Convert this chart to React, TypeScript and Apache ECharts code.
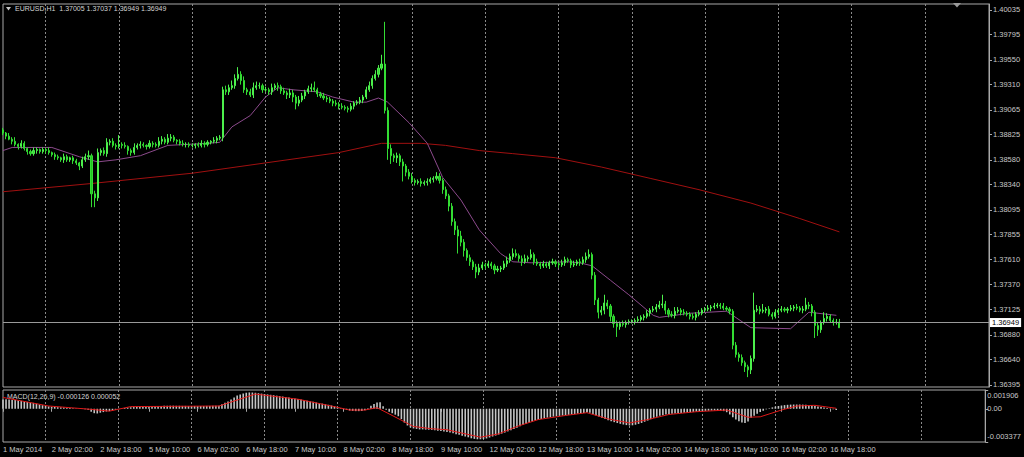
import React, { useEffect, useRef } from 'react';
import * as echarts from 'echarts';

// ---------- data ----------
const symbolTitle = 'EURUSD,H1  1.37005 1.37037 1.36949 1.36949';
const macdTitle = 'MACD(12,26,9) -0.000126 0.000052';

const timeLabels = ['1 May 2014', '2 May 02:00', '2 May 18:00', '5 May 10:00', '6 May 02:00', '6 May 18:00', '7 May 10:00', '8 May 02:00', '8 May 18:00', '9 May 10:00', '12 May 02:00', '12 May 18:00', '13 May 10:00', '14 May 02:00', '14 May 18:00', '15 May 10:00', '16 May 02:00', '16 May 18:00'];
const priceTicks = [1.36395, 1.3664, 1.3688, 1.37125, 1.3737, 1.3761, 1.37855, 1.38095, 1.3834, 1.3858, 1.38825, 1.39065, 1.3931, 1.3955, 1.39795, 1.40035];
const macdTicks = [-0.003377, 0, 0.001906];
const lastPrice = 1.36949;

const firstOpen = 1.3887;
const closes = [
  1.3884,1.3881,1.3878,1.3876,1.3873,1.3871,1.3874,1.3869,1.3866,1.3864,1.3867,1.3868,1.3866,1.3868,
  1.3867,1.3865,1.3863,1.3861,1.3860,1.3858,1.3861,1.3858,1.3860,1.3857,1.3855,1.3852,1.3858,1.3861,1.3862,1.3825,1.3821,1.3865,1.3867,1.3864,1.3875,1.3876,1.3872,1.3871,
  1.3873,1.3872,1.3871,1.3867,1.3865,1.3870,1.3872,1.3873,1.3872,1.3871,1.3874,1.3873,1.3872,1.3876,1.3878,1.3875,1.3879,1.3880,1.3877,1.3876,1.3874,1.3873,1.3873,1.3872,
  1.3872,1.3873,1.3872,1.3874,1.3873,1.3875,1.3876,1.3877,1.3879,1.3880,1.3926,1.3924,1.3928,1.3930,1.3937,1.3941,1.3935,1.3926,1.3924,1.3921,1.3928,1.3930,1.3930,1.3926,
  1.3926,1.3924,1.3928,1.3930,1.3929,1.3925,1.3923,1.3921,1.3923,1.3919,1.3913,1.3916,1.3920,1.3924,1.3927,1.3928,1.3926,1.3922,1.3920,1.3918,1.3917,1.3915,1.3913,1.3912,
  1.3910,1.3909,1.3908,1.3907,1.3910,1.3913,1.3914,1.3916,1.3919,1.3926,1.3930,1.3937,1.3941,1.3947,1.3951,1.3906,1.3869,1.3862,1.3860,1.3862,1.3856,1.3852,1.3846,1.3842,
  1.3838,1.3836,1.3837,1.3835,1.3836,1.3837,1.3839,1.3840,1.3842,1.3838,1.3829,1.3823,1.3813,1.3798,1.3790,1.3784,1.3778,1.3770,1.3763,1.3759,1.3754,1.3749,1.3753,1.3756,
  1.3755,1.3757,1.3755,1.3751,1.3752,1.3753,1.3757,1.3760,1.3764,1.3767,1.3765,1.3762,1.3759,1.3762,1.3763,1.3766,1.3759,1.3757,1.3755,1.3757,1.3755,1.3758,1.3759,1.3757,
  1.3756,1.3758,1.3761,1.3760,1.3756,1.3757,1.3759,1.3758,1.3761,1.3764,1.3766,1.3746,1.3722,1.3710,1.3712,1.3719,1.3716,1.3706,1.3699,1.3696,1.3699,1.3698,1.3700,1.3701,
  1.3701,1.3702,1.3703,1.3705,1.3706,1.3709,1.3712,1.3713,1.3715,1.3717,1.3718,1.3712,1.3708,1.3707,1.3711,1.3712,1.3710,1.3709,1.3708,1.3706,1.3705,1.3708,1.3709,1.3712,
  1.3713,1.3714,1.3715,1.3716,1.3717,1.3716,1.3714,1.3713,1.3711,1.3678,1.3669,1.3666,1.3661,1.3657,1.3654,1.3665,1.3712,1.3713,1.3711,1.3712,1.3713,1.3708,1.3706,1.3710,
  1.3712,1.3713,1.3712,1.3713,1.3714,1.3715,1.3714,1.3712,1.3713,1.3717,1.3716,1.3710,1.3697,1.3693,1.3700,1.3704,1.3706,1.3702,1.3700,1.37005,1.36949,
];
// wick extensions in pips above max(open, close) and below min(open, close)
const hiExtPips = [
  2,1,3,2,4,1,3,2,1,2,3,2,1,2,
  2,3,1,2,2,1,3,2,1,2,2,1,3,3,5,2,3,4,2,3,4,2,3,2,
  9,2,3,1,2,4,2,3,2,1,3,2,2,4,3,2,4,3,2,1,2,3,2,2,
  2,1,2,3,2,2,1,3,2,2,3,4,3,5,4,7,3,4,2,3,5,4,3,2,
  3,2,4,2,3,2,3,2,4,3,2,4,3,2,3,4,6,2,2,3,2,2,2,3,
  2,3,2,2,3,2,2,3,2,3,4,3,4,3,9,41,3,4,2,3,2,3,2,3,
  3,2,2,3,2,3,2,2,4,3,2,3,2,3,3,4,5,3,2,3,2,3,4,3,
  2,3,2,2,3,2,3,4,3,5,4,2,3,4,2,5,2,3,2,3,2,2,3,2,
  2,3,3,2,2,3,2,3,3,4,5,2,3,2,4,8,3,2,2,3,2,3,2,2,
  2,2,3,2,2,3,2,3,3,4,9,3,2,3,4,3,2,3,2,2,3,2,3,2,
  2,3,2,3,2,2,3,2,2,2,3,2,3,2,2,3,17,4,3,6,2,3,2,3,
  2,3,2,2,3,2,3,2,3,7,3,2,2,3,2,6,3,2,2,3,3,
];
const loExtPips = [
  2,3,1,3,2,3,2,2,3,2,2,3,2,2,
  3,2,2,3,2,2,3,2,2,3,2,4,2,2,3,13,9,3,3,2,3,3,2,3,
  2,3,2,4,3,2,2,3,2,3,2,3,2,2,3,2,2,3,2,3,2,2,3,2,
  2,3,2,2,3,2,2,2,3,2,4,3,3,2,3,2,4,3,3,2,3,2,3,3,
  2,3,3,2,4,3,2,4,3,5,6,3,2,3,2,3,2,3,2,2,3,2,3,2,
  3,2,2,3,2,3,2,2,3,2,2,3,2,3,2,3,11,8,4,5,4,15,4,3,
  3,3,2,3,2,3,2,3,2,3,4,3,5,4,5,17,4,6,3,4,3,6,3,2,
  3,2,3,4,2,3,2,3,2,3,2,3,4,2,3,2,3,2,3,2,2,3,2,3,
  3,2,3,2,3,2,2,3,2,3,2,4,5,6,3,4,3,5,4,10,3,2,3,2,
  2,3,2,2,3,2,3,2,3,2,3,4,3,2,3,2,3,2,2,3,2,3,2,2,
  2,2,3,2,2,3,2,2,3,4,3,4,3,5,7,4,3,2,3,2,3,2,3,2,
  3,2,2,3,2,3,2,2,3,2,3,4,12,6,3,2,3,2,3,2,0,
];
// moving averages: [bar index, price]
const fastMA = [
  [0,1.3867],[3,1.3870],[16,1.3870],[25,1.3861],[31,1.3856],[37,1.3858],[45,1.3862],[54,1.3872],[67,1.3874],[71,1.3875],
  [75,1.3890],[81,1.3901],[86,1.3919],[90,1.3928],[95,1.3926],[103,1.3924],[108,1.3919],[115,1.3914],[119,1.3914],[123,1.3918],
  [126,1.3914],[133,1.3894],[139,1.3874],[144,1.3841],[150,1.3819],[156,1.3790],[163,1.3767],[167,1.3759],[173,1.3758],[185,1.3759],
  [189,1.3758],[193,1.3755],[199,1.3741],[205,1.3727],[213,1.3707],[215,1.3705],[225,1.3709],[237,1.3711],[239,1.3707],[245,1.3695],
  [258,1.3694],[264,1.3710],[273,1.3707],
];
const slowMA = [
  [0,1.3827],[29,1.3835],[62,1.3845],[86,1.3855],[110,1.3865],[124,1.3874],[137,1.3874],[145,1.3872],[156,1.3867],[167,1.3864],
  [181,1.3860],[196,1.3851],[212,1.3840],[228,1.3829],[245,1.3816],[261,1.3801],[274,1.3788],
];
// MACD main (histogram) per bar, in units of 0.0001
const macdMain = [
  9.5,9.6,9.4,9.2,9.0,8.5,8.0,7.5,7.0,6.5,6.0,5.2,4.4,3.6,
  3.0,2.4,2.0,1.8,1.6,1.4,1.2,1.0,0.8,0.5,0.3,0.0,-0.3,-0.6,-0.9,-3.0,-4.5,-4.8,-4.0,-3.4,-2.8,-2.4,-1.8,-1.0,
  -0.4,0.2,0.8,1.2,1.5,1.7,1.9,2.1,2.2,2.4,2.5,2.6,2.7,2.8,2.9,3.0,3.0,3.1,3.1,3.0,3.0,2.9,2.9,2.8,
  2.8,2.8,2.7,2.8,2.8,2.9,2.9,3.0,3.0,3.0,4.5,6.0,7.5,9.5,11.5,13.5,14.5,15.5,16.3,16.6,16.5,16.2,15.8,15.4,
  15.0,14.6,14.2,13.8,13.3,12.8,12.4,12.0,11.5,11.0,10.5,10.0,9.4,8.8,8.2,7.6,7.0,6.4,5.8,5.2,4.6,4.0,3.3,2.5,
  1.5,0.5,-0.5,-1.2,-1.8,-2.2,-2.4,-2.4,-2.2,-1.6,0.5,3.0,4.8,6.3,6.5,2.5,-1.0,-3.0,-4.5,-6.0,-7.6,-10.5,-14.0,-17.0,
  -19.0,-20.0,-20.5,-21.0,-21.0,-21.2,-21.3,-21.5,-21.8,-22.3,-22.7,-23.0,-23.6,-24.2,-25.0,-25.8,-26.5,-27.3,-28.2,-29.0,-30.0,-30.6,-31.0,-31.0,
  -30.8,-30.2,-29.2,-28.2,-27.2,-26.2,-25.2,-24.2,-23.0,-21.8,-20.5,-19.2,-17.8,-16.6,-15.4,-14.2,-13.0,-12.0,-11.2,-10.4,-9.6,-9.0,-8.5,-8.0,
  -7.6,-7.2,-6.9,-6.6,-6.2,-5.8,-5.4,-5.0,-4.5,-4.2,-3.9,-4.0,-5.2,-6.8,-8.0,-9.3,-10.5,-11.6,-12.7,-13.6,-14.5,-15.3,-16.0,-16.6,
  -17.0,-16.8,-16.2,-15.4,-14.4,-13.2,-12.0,-10.6,-9.2,-8.2,-7.2,-6.5,-5.8,-5.4,-5.0,-4.7,-4.4,-4.2,-4.0,-3.8,-3.5,-3.2,-2.9,-2.6,
  -2.4,-2.2,-2.0,-1.8,-1.7,-1.8,-2.0,-2.4,-3.5,-5.8,-8.5,-11.0,-12.8,-14.0,-14.4,-13.0,-9.2,-7.0,-5.0,-3.4,-2.0,-0.6,0.5,1.4,
  2.2,2.8,3.3,3.7,4.0,4.2,4.3,4.3,4.3,4.2,4.1,3.8,3.3,2.8,2.3,1.7,1.2,0.7,0.2,-0.5,-1.26,
];
// MACD signal: [bar index, value in 0.0001]
const macdSignal = [
  [0,11.5],[15,2.8],[29,-0.6],[35,-2.4],[42,2.2],[71,2.8],[83,14.9],[97,9.7],[108,2.8],[114,-1.3],[119,-1.3],[123,1.1],
  [135,-18],[141,-20.3],[146,-21.3],[157,-28.9],[163,-25.5],[169,-18],[176,-11],[185,-6.8],[192,-4],[199,-10.3],[206,-14.4],
  [212,-11],[219,-5.8],[228,-3],[238,-1.3],[245,-8.6],[249,-8.2],[256,-1.3],[261,2.8],[267,3.5],[274,0.5],
];

const totalSlots = 324;
const labelEvery = 16;
const firstMidnight = 14;
const barsPerDay = 24;

const FONT = 'Liberation Sans, DejaVu Sans, Arial, sans-serif';
const TXT = '#c8c8c8';
const FRAME = '#a8a8a8';

export default function App() {
  const ref = useRef<HTMLDivElement>(null);
  useEffect(() => {
    if (!ref.current) return;
    const chart = echarts.init(ref.current, undefined, { renderer: 'svg' });
    const cats = Array.from({ length: totalSlots }, (_, i) =>
      i % labelEvery === 0 && i / labelEvery < timeLabels.length ? timeLabels[i / labelEvery] : ''
    );
    const ohlc = closes.map((c, i) => {
      const o = i === 0 ? firstOpen : closes[i - 1];
      const hi = Math.max(o, c) + hiExtPips[i] / 10000;
      const lo = Math.min(o, c) - loExtPips[i] / 10000;
      return [o, c, lo, hi];
    });
    const isMidnight = (i: number) => i >= firstMidnight && (i - firstMidnight) % barsPerDay === 0;
    const split = { show: true, interval: (i: number) => isMidnight(i), lineStyle: { color: '#8a8a8a', type: [2, 2], width: 1 } };

    chart.setOption({
      animation: false,
      backgroundColor: '#000',
      textStyle: { fontFamily: FONT },
      grid: [
        { left: 3, top: 4, width: 986, height: 383, show: true, borderColor: FRAME, borderWidth: 1 },
        { left: 3, top: 390, width: 986, height: 52, show: true, borderColor: FRAME, borderWidth: 1 },
      ],
      xAxis: [
        { type: 'category', gridIndex: 0, data: cats, boundaryGap: false, axisLine: { show: false }, axisTick: { show: false }, axisLabel: { show: false }, splitLine: split },
        {
          type: 'category', gridIndex: 1, data: cats, boundaryGap: false,
          axisLine: { show: false },
          axisTick: { show: true, interval: (i: number) => i % labelEvery === 0 && i < closes.length, length: 3, lineStyle: { color: FRAME } },
          axisLabel: { show: true, interval: (i: number) => i % labelEvery === 0, align: 'left', color: TXT, fontSize: 7.5, margin: 3, fontFamily: FONT },
          splitLine: split,
        },
      ],
      yAxis: [
        {
          type: 'value', gridIndex: 0, position: 'right', min: 1.36374, max: 1.40093,
          splitLine: { show: false },
          axisLine: { show: true, lineStyle: { color: FRAME } },
          axisTick: { show: true, customValues: priceTicks, length: 3, lineStyle: { color: FRAME } },
          axisLabel: { customValues: priceTicks, formatter: (v: number) => v.toFixed(5), color: TXT, fontSize: 7.5, margin: 4, fontFamily: FONT },
        },
        {
          type: 'value', gridIndex: 1, position: 'right', min: -0.003377, max: 0.001906,
          splitLine: { show: false },
          axisLine: { show: true, lineStyle: { color: FRAME } },
          axisTick: { show: true, customValues: macdTicks, length: 3, lineStyle: { color: FRAME } },
          axisLabel: {
            customValues: macdTicks, margin: 2, color: TXT, fontSize: 7.5, fontFamily: FONT,
            formatter: (v: number) => (v === 0 ? '{m|0.00}' : v > 0 ? `{t|${v.toFixed(6)}}` : `{b|${v.toFixed(6)}}`),
            rich: {
              m: { color: TXT, fontSize: 7.5, fontFamily: FONT },
              t: { color: TXT, fontSize: 7.5, fontFamily: FONT, padding: [10, 0, 0, 0] },
              b: { color: TXT, fontSize: 7.5, fontFamily: FONT, padding: [0, 0, 11, 0] },
            },
          },
        },
      ],
      series: [
        {
          type: 'line', xAxisIndex: 0, yAxisIndex: 0, data: slowMA, showSymbol: false, silent: true,
          lineStyle: { color: '#a01010', width: 1 }, z: 2,
          markLine: {
            silent: true, symbol: 'none', animation: false,
            data: [{ yAxis: lastPrice }],
            lineStyle: { color: '#9a9a9a', type: 'solid', width: 1 },
            label: { show: true, position: 'end', formatter: () => lastPrice.toFixed(5), backgroundColor: '#ffffff', color: '#000', fontSize: 7.5, fontFamily: FONT, padding: [1, 2, 0, 2], distance: 1 },
          },
        },
        {
          type: 'line', xAxisIndex: 0, yAxisIndex: 0, data: fastMA, showSymbol: false, silent: true,
          lineStyle: { color: '#8c4a8c', width: 1 }, z: 2,
        },
        {
          type: 'candlestick', xAxisIndex: 0, yAxisIndex: 0, data: ohlc, barWidth: 1.6, z: 3,
          itemStyle: { color: '#36d636', color0: '#22c422', borderColor: '#4cf04c', borderColor0: '#33dd33', borderWidth: 1 },
        },
        {
          type: 'bar', xAxisIndex: 1, yAxisIndex: 1, data: macdMain.map((v) => v / 10000), barWidth: 1.6,
          itemStyle: { color: '#c4c4c4' }, silent: true,
        },
        {
          type: 'line', xAxisIndex: 1, yAxisIndex: 1, data: macdSignal.map(([i, v]) => [i, v / 10000]), showSymbol: false, silent: true,
          lineStyle: { color: '#e01818', width: 1 }, z: 3,
        },
      ],
      graphic: [
        { type: 'polygon', shape: { points: [[6, 7], [11, 7], [8.5, 10.5]] }, style: { fill: TXT } },
        { type: 'text', x: 15, y: 4.5, style: { text: symbolTitle, fill: '#d4d4d4', fontSize: 7, fontFamily: FONT } },
        { type: 'text', x: 7, y: 393, style: { text: macdTitle, fill: '#d4d4d4', fontSize: 7, fontFamily: FONT } },
        { type: 'polygon', shape: { points: [[953, 3], [961, 3], [957, 7.5]] }, style: { fill: '#9a9a9a' } },
      ],
    });
    return () => chart.dispose();
  }, []);
  return (
    <div
      ref={ref}
      style={{ position: 'fixed', left: 0, top: 0, width: 1024, height: 457, background: '#000' }}
    />
  );
}
